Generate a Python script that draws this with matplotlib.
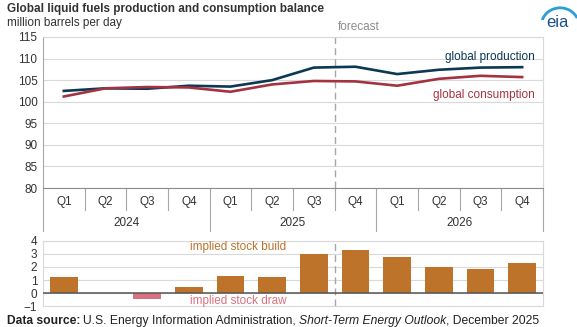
import matplotlib.pyplot as plt
from matplotlib.patches import Arc
import matplotlib.transforms as mtransforms

plt.rcParams["font.family"] = ["Liberation Sans", "DejaVu Sans"]

quarters = ["Q1", "Q2", "Q3", "Q4"] * 3
years = ["2024", "2025", "2026"]
production = [102.5, 103.1, 103.0, 103.7, 103.5, 105.0, 107.9, 108.1, 106.4, 107.4, 107.9, 108.0]
consumption = [101.2, 103.1, 103.4, 103.3, 102.3, 104.0, 104.8, 104.7, 103.7, 105.3, 106.0, 105.7]
stock_change = [1.26, 0.0, -0.4, 0.5, 1.3, 1.23, 3.0, 3.3, 2.73, 2.0, 1.83, 2.33]
forecast_start = 6.5

c_prod = "#0b3954"
c_cons = "#a33340"
c_build = "#bd732a"
c_draw = "#d9727e"
grid_c = "#d9d9d9"
sep_c = "#a6a6a6"
txt_c = "#333333"
fs = 8.5

fig = plt.figure(figsize=(5.77, 3.27), dpi=100)
ax = fig.add_axes([0.0745, 0.425, 0.8666, 0.462])
ax2 = fig.add_axes([0.0745, 0.063, 0.8666, 0.201])

x = list(range(len(quarters)))

# top panel
ax.plot(x, production, color=c_prod, lw=1.9, zorder=3)
ax.plot(x, consumption, color=c_cons, lw=1.9, zorder=3)
ax.set_xlim(-0.5, 11.5)
ax.set_ylim(80, 115)
ax.set_yticks(range(80, 116, 5))
ax.yaxis.grid(True, color=grid_c, lw=0.8)
ax.set_axisbelow(True)
ax.tick_params(axis="y", length=0, labelsize=fs, labelcolor=txt_c, pad=4)
ax.set_xticks(x)
ax.set_xticklabels([])
ax.tick_params(axis="x", length=0)
for s in ["top", "right"]:
    ax.spines[s].set_color(grid_c)
ax.spines["left"].set_color(sep_c)
ax.spines["bottom"].set_color("#8c8c8c")
ax.axvline(forecast_start, color="#a6a6a6", lw=1, ls=(0, (5, 3)), zorder=2)

# category axis labels
trans = mtransforms.blended_transform_factory(ax.transData, ax.transAxes)
for i, q in enumerate(quarters):
    ax.text(i, -0.093, q, transform=trans, ha="center", va="center",
            fontsize=fs, color=txt_c)
for j, yr in enumerate(years):
    ax.text(4 * j + 1.5, -0.232, yr, transform=trans, ha="center", va="center",
            fontsize=fs, color=txt_c)
for k in range(13):
    xs = k - 0.5
    low = -0.285 if k % 4 == 0 else -0.146
    ax.plot([xs, xs], [0, low], transform=trans, color=sep_c, lw=0.8, clip_on=False)

ax.text(11.3, 108.9, "global production", ha="right", va="bottom",
        fontsize=fs, color=c_prod)
ax.text(11.3, 103.0, "global consumption", ha="right", va="top",
        fontsize=fs, color=c_cons)
ax.text(forecast_start + 0.07, 1.025, "forecast", transform=trans, ha="left",
        va="bottom", fontsize=fs, color="#8c8c8c")

# bottom panel
colors = [c_build if v >= 0 else c_draw for v in stock_change]
ax2.bar(x, stock_change, width=0.67, color=colors, zorder=3)
ax2.set_xlim(-0.5, 11.5)
ax2.set_ylim(-1, 4)
ax2.set_yticks(range(-1, 5))
ax2.yaxis.grid(True, color=grid_c, lw=0.8)
ax2.set_axisbelow(True)
ax2.set_xticks([])
ax2.tick_params(axis="y", length=0, labelsize=fs, labelcolor=txt_c, pad=4)
for s in ax2.spines.values():
    s.set_color(grid_c)
ax2.axhline(0, color="#555555", lw=1.1, zorder=4)
ax2.axvline(forecast_start, color="#a6a6a6", lw=1, ls=(0, (5, 3)), zorder=2)
ax2.text(4.18, 3.55, "implied stock build", ha="center", va="center",
         fontsize=fs, color=c_build)
ax2.text(4.18, -0.58, "implied stock draw", ha="center", va="center",
         fontsize=fs, color=c_draw)

# titles
fig.text(0.012, 0.972, "Global liquid fuels production and consumption balance",
         ha="left", va="center", fontsize=8.5, fontweight="bold", color=txt_c)
fig.text(0.012, 0.93, "million barrels per day", ha="left", va="center",
         fontsize=fs, color=txt_c)

# source line
sy = 0.019
t1 = fig.text(0.012, sy, "Data source:", ha="left", va="center",
              fontsize=8.7, fontweight="bold", color="#222222")
fig.canvas.draw()
r = fig.canvas.get_renderer()
bb = t1.get_window_extent(r)
xpos = bb.x1 / fig.bbox.width + 0.004
parts = [("U.S. Energy Information Administration, ", "normal"),
         ("Short-Term Energy Outlook", "italic"),
         (", December 2025", "normal")]
for s, st in parts:
    t = fig.text(xpos, sy, s, ha="left", va="center", fontsize=8.7,
                 style=st, color="#222222")
    bb = t.get_window_extent(r)
    xpos = bb.x1 / fig.bbox.width

# eia logo
fig.text(0.966, 0.93, "eia", ha="center", va="center", fontsize=12,
         color="#1b4f8a")
lax = fig.add_axes([0.935, 0.94, 0.065, 0.06])
lax.set_xlim(0, 1)
lax.set_ylim(0, 1)
lax.axis("off")
lax.add_patch(Arc((0.55, -0.3), 1.0, 1.8, theta1=40, theta2=150,
                  color="#2a9fd6", lw=2))

fig.savefig("out.png", dpi=100)
